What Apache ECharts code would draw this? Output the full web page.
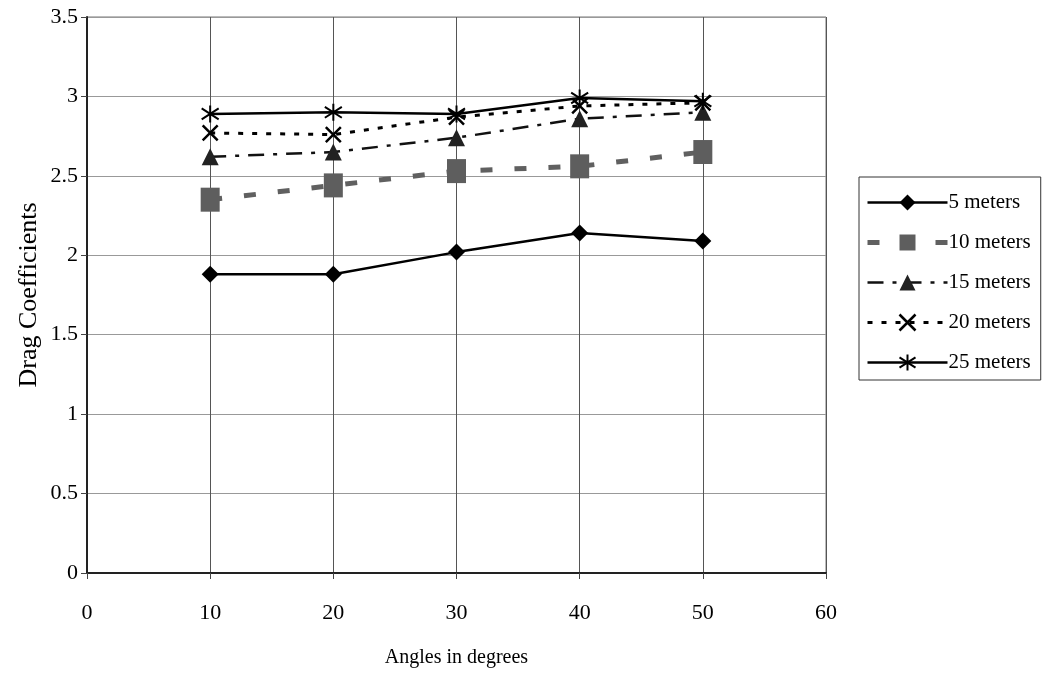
<!DOCTYPE html>
<html>
<head>
<meta charset="utf-8">
<script src="https://cdn.jsdelivr.net/npm/echarts@6/dist/echarts.min.js"></script>
<style>
  html, body { margin: 0; padding: 0; background: #fff; }
  #chart { width: 1047px; height: 675px; }
</style>
</head>
<body>
<div id="chart"></div>
<script>
// Angle of attack (degrees) and drag coefficients per depth
const angles = [10, 20, 30, 40, 50];
const seriesNames = ['5 meters', '10 meters', '15 meters', '20 meters', '25 meters'];
const cd5m  = [1.88, 1.88, 2.02, 2.14, 2.09];
const cd10m = [2.35, 2.44, 2.53, 2.56, 2.65];
const cd15m = [2.62, 2.65, 2.74, 2.86, 2.90];
const cd20m = [2.77, 2.76, 2.87, 2.94, 2.96];
const cd25m = [2.89, 2.90, 2.89, 2.99, 2.97];
const yTicks = [0, 0.5, 1, 1.5, 2, 2.5, 3, 3.5];
const xTicks = [0, 10, 20, 30, 40, 50, 60];

const FONT = 'Liberation Serif';
const pairs = vals => angles.map((a, i) => [a, vals[i]]);

const crossPath = 'path://M0,0L10,10M10,0L0,10';
const starPath = 'path://M5,0L5,10M0.6,1.8L9.4,8.2M9.4,1.8L0.6,8.2';

// Line and marker styles shared by each series and its legend entry
const styles = [
  { symbol: 'diamond', size: 17, line: { color: '#000', width: 2.5, type: 'solid' },
    item: { color: '#000' } },
  { symbol: 'rect', size: [19, 24], line: { color: '#606060', width: 5, type: [12, 22] },
    item: { color: '#5e5e5e' } },
  { symbol: 'triangle', size: 17, line: { color: '#111', width: 2.5, type: [16, 9, 4, 9] },
    item: { color: '#222' } },
  { symbol: crossPath, size: 15, line: { color: '#000', width: 3, type: [5, 9] },
    item: { color: '#000', borderColor: '#000', borderWidth: 2.5 } },
  { symbol: starPath, size: 17, line: { color: '#000', width: 2.5, type: 'solid' },
    item: { color: '#000', borderColor: '#000', borderWidth: 2 } }
];
const values = [cd5m, cd10m, cd15m, cd20m, cd25m];

const chart = echarts.init(document.getElementById('chart'));
chart.setOption({
  backgroundColor: '#fff',
  animation: false,
  textStyle: { fontFamily: FONT, color: '#000' },
  grid: {
    left: 87, right: 221, top: 17, bottom: 102,
    show: true, borderColor: '#777', borderWidth: 1
  },
  xAxis: {
    type: 'value', min: xTicks[0], max: xTicks[xTicks.length - 1], interval: 10,
    name: 'Angles in degrees', nameLocation: 'middle', nameGap: 75,
    nameTextStyle: { fontFamily: FONT, fontSize: 20, color: '#000' },
    axisLine: { show: true, lineStyle: { color: '#222', width: 2 } },
    axisTick: { show: true, length: 6, lineStyle: { color: '#444' } },
    axisLabel: { fontFamily: FONT, fontSize: 22, color: '#000', margin: 29 },
    splitLine: { show: true, lineStyle: { color: '#555', width: 1 } }
  },
  yAxis: {
    type: 'value', min: yTicks[0], max: yTicks[yTicks.length - 1], interval: 0.5,
    name: 'Drag Coefficients', nameLocation: 'middle', nameGap: 45,
    nameMoveOverlap: false,
    nameTextStyle: { fontFamily: FONT, fontSize: 26, color: '#000' },
    axisLine: { show: true, lineStyle: { color: '#222', width: 2 } },
    axisTick: { show: true, length: 6, lineStyle: { color: '#444' } },
    axisLabel: { fontFamily: FONT, fontSize: 22, color: '#000', margin: 9 },
    splitLine: { show: true, lineStyle: { color: '#999', width: 1 } }
  },
  legend: {
    orient: 'vertical', left: 859, top: 177,
    padding: [15, 10, 7, 6],
    itemWidth: 80, itemHeight: 20, itemGap: 19,
    borderColor: '#333', borderWidth: 1,
    textStyle: { fontFamily: FONT, fontSize: 21, color: '#000', padding: [0, 0, 0, -4] },
    data: seriesNames.map((name, i) => ({
      name: name,
      lineStyle: Object.assign({}, styles[i].line),
      itemStyle: Object.assign({}, styles[i].item)
    }))
  },
  series: seriesNames.map((name, i) => ({
    name: name, type: 'line', data: pairs(values[i]),
    symbol: styles[i].symbol, symbolSize: styles[i].size,
    lineStyle: styles[i].line,
    itemStyle: styles[i].item
  }))
});
</script>
</body>
</html>
